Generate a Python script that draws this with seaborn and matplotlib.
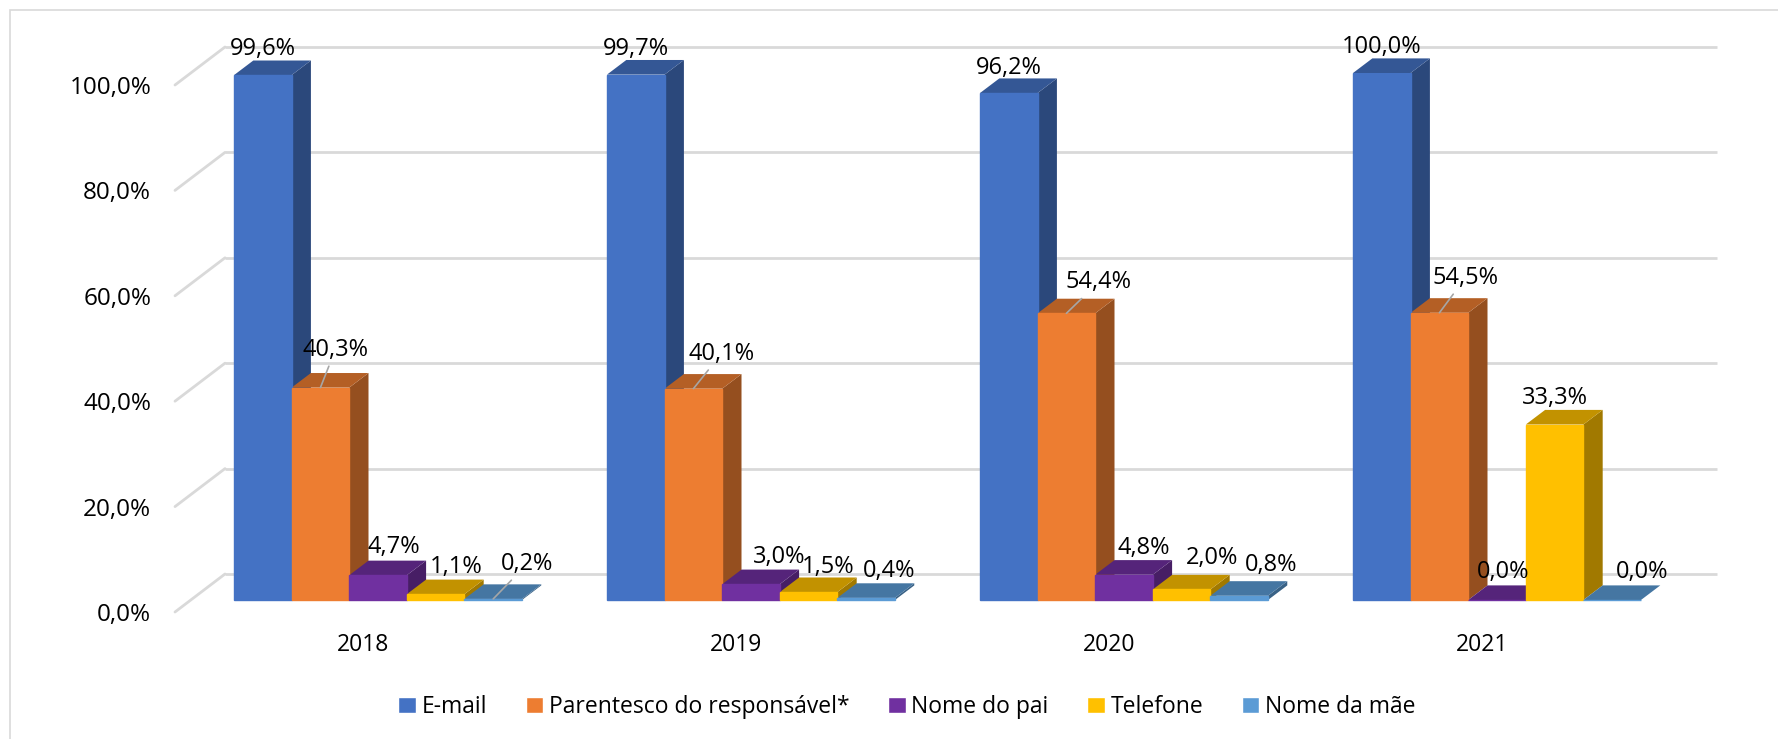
import matplotlib
matplotlib.use("Agg")
import pandas as pd
import seaborn as sns
import matplotlib.pyplot as plt
from matplotlib.patches import Rectangle

anos = ["2018", "2019", "2020", "2021"]
series = ["E-mail", "Parentesco do responsável*", "Nome do pai", "Telefone", "Nome da mãe"]
email = [99.6, 99.7, 96.2, 100.0]
parentesco = [40.3, 40.1, 54.4, 54.5]
nome_pai = [4.7, 3.0, 4.8, 0.0]
telefone = [1.1, 1.5, 2.0, 33.3]
nome_mae = [0.2, 0.4, 0.8, 0.0]
y_ticks = [0, 20, 40, 60, 80, 100]

cores = ["#4472C4", "#ED7D31", "#7030A0", "#FFC000", "#5B9BD5"]

# label nudges in pixels, one row per series
label_dx = [[0, 0, 0, 0], [15, 28, 32, 26], [16, 28, 20, 6], [21, 20, 30, 0], [34, 23, 32, 30]]
label_dy = [[26, 26, 25, 26], [38, 35, 31, 35], [28, 27, 27, 28], [27, 25, 31, 27], [35, 27, 31, 28]]
# labels that have a leader line (series index, year index)
leaders = [(1, 0), (1, 1), (1, 2), (1, 3), (4, 0)]

W, H = 1778, 739
px_x = 373.0  # pixels per category
px_y = 5.27   # pixels per percent
depth_x = 19.3 / px_x
depth_y = 14.6 / px_y
side_dy = -12 / px_y  # front end of the side wall sits below the bars' baseline

df = pd.DataFrame({
    "ano": anos * 5,
    "serie": [s for s in series for _ in anos],
    "valor": email + parentesco + nome_pai + telefone + nome_mae,
})

sns.set_theme(style="white")
plt.rcParams["font.family"] = ["Open Sans", "DejaVu Sans"]

fig = plt.figure(figsize=(W / 100, H / 100), dpi=100)
# axes reach 12 px under the baseline so the 0,0% tick stays inside
ax = fig.add_axes([191.5 / W, (H - 612) / H, 1492 / W, 539 / H])
sns.barplot(data=df, x="ano", y="valor", hue="serie", order=anos, hue_order=series,
            palette=cores, saturation=1, width=0.772, gap=0, ax=ax, zorder=3)
ax.set_xlabel("")
ax.set_ylabel("")
sns.despine(ax=ax, left=True, bottom=True)


def shade(cor, f):
    r, g, b = matplotlib.colors.to_rgb(cor)
    return (r * f, g * f, b * f)


# walls: the back gridlines and the short lines on the left side
wall_dx = 33.5 / px_x
wall_dy = 26 / px_y
side_x = -16.5 / px_x
for t in y_ticks:
    ax.plot([-0.5 + wall_dx, 3.5 + wall_dx], [t + wall_dy, t + wall_dy], color="#D9D9D9",
            lw=2, clip_on=False, zorder=1, solid_capstyle="butt")
    ax.plot([-0.5 + side_x, -0.5 + wall_dx], [t + side_dy, t + wall_dy], color="#D9D9D9",
            lw=2, clip_on=False, zorder=1)

# 3D faces from the bars seaborn drew
for k, cont in enumerate(ax.containers):
    for bar in cont:
        x0 = bar.get_x()
        x1 = x0 + bar.get_width()
        h = bar.get_height()
        bar.set_edgecolor(shade(cores[k], 1.0))
        ax.fill([x1, x1 + depth_x, x1 + depth_x, x1], [0, depth_y, h + depth_y, h],
                color=shade(cores[k], 0.63), lw=0, clip_on=False, zorder=2)
        ax.fill([x0, x1, x1 + depth_x, x0 + depth_x], [h, h, h + depth_y, h + depth_y],
                color=shade(cores[k], 0.76), lw=0, clip_on=False, zorder=2)

# data labels
for k, cont in enumerate(ax.containers):
    for j, bar in enumerate(cont):
        h = bar.get_height()
        txt = f"{h:.1f}%".replace(".", ",")
        arrow = None
        if (k, j) in leaders:
            arrow = dict(arrowstyle="-", color="#A6A6A6", lw=1.2, shrinkA=1, shrinkB=0)
        ax.annotate(txt, xy=(bar.get_x() + bar.get_width() / 2, h),
                    xytext=(label_dx[k][j], label_dy[k][j]), textcoords="offset pixels",
                    ha="center", va="center", fontsize=17, color="black",
                    arrowprops=arrow, annotation_clip=False, zorder=5)

ax.set_yticks([t + side_dy for t in y_ticks])
ax.set_yticklabels([f"{t:.1f}%".replace(".", ",") for t in y_ticks], fontsize=17.5, color="black")
ax.tick_params(axis="y", length=0, pad=29)
ax.set_xticks([i - 15 / px_x for i in range(len(anos))])
ax.set_xticklabels(anos, fontsize=16.5, color="black")
ax.tick_params(axis="x", length=0, pad=15)
# ticks stretch the view, so fix the limits last
ax.set_xlim(-0.5, 3.5)
ax.set_ylim(side_dy, 100)

handles, labels = ax.get_legend_handles_labels()
ax.legend_.remove()
fig.legend(handles, labels, ncol=5, loc="center", bbox_to_anchor=(907 / W, 1 - 707 / H),
           frameon=False, fontsize=16.5, handlelength=0.75, handleheight=0.75,
           handletextpad=0.25, columnspacing=1.7, labelcolor="black")

# chart frame (only top and left show)
fig.add_artist(Rectangle((10 / W, -0.1), 1.2, 1.1 - 10 / H, transform=fig.transFigure,
                         fill=False, edgecolor="#D9D9D9", lw=1.2))

fig.savefig("out.png", dpi=100)
